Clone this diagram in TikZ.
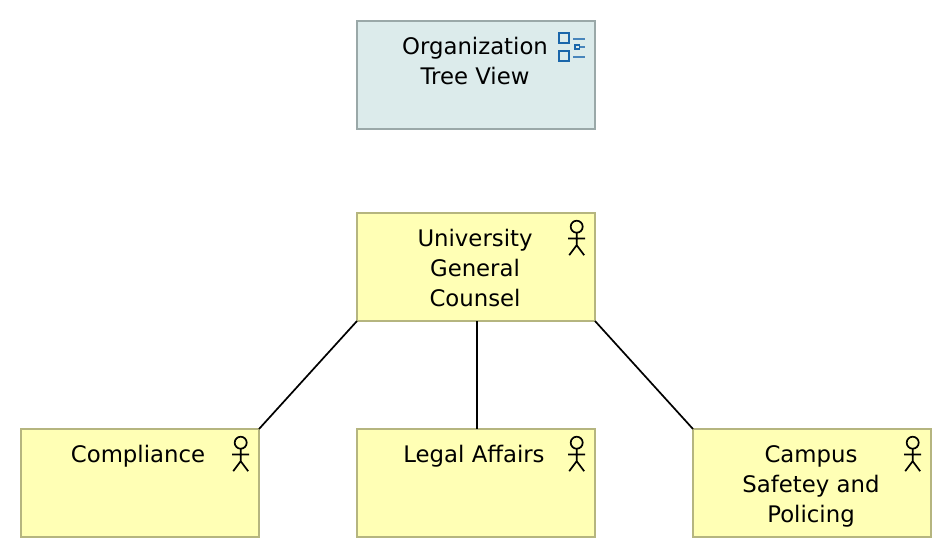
\documentclass[tikz,border=0pt]{standalone}
\usepackage{fontspec}
\setmainfont{DejaVu Sans}
\definecolor{viewfill}{HTML}{DCEBEB}
\definecolor{viewline}{HTML}{9AA8A8}
\definecolor{actfill}{HTML}{FFFFB5}
\definecolor{actline}{HTML}{B5B57F}
\definecolor{iconblue}{HTML}{1A66AA}
\tikzset{
  x=1pt,y=-1pt,
  elem/.style={draw,line width=1.8pt,minimum width=238pt,minimum height=108pt,inner sep=0pt,outer sep=0pt},
  viewbox/.style={elem,draw=viewline,fill=viewfill},
  actbox/.style={elem,draw=actline,fill=actfill},
  lbl/.style={anchor=north,align=center,inner sep=0pt,font=\fontsize{22.8}{30}\selectfont},
  link/.style={draw=black,line width=1.7pt},
  actor/.pic={
    \draw[black,line width=1.7pt] (0,0) circle[radius=6];
    \draw[black,line width=1.7pt] (0,6) -- (0,18.5) (-8.5,11.7) -- (8.5,11.7)
      (-7.5,28.5) -- (0,18.5) -- (7.5,28.5);
  }
}
\begin{document}
\begin{tikzpicture}
\useasboundingbox (0,0) rectangle (952,558);
\fill[white] (0,0) rectangle (952,558);
\node[viewbox] (view) at (476,75) {};
\node[actbox] (ugc) at (476,267) {};
\node[actbox] (comp) at (140,483) {};
\node[actbox] (legal) at (476,483) {};
\node[actbox] (campus) at (812,483) {};
\draw[link] (ugc.south west) -- (comp.north east);
\draw[link] ([xshift=1pt]ugc.south) -- ([xshift=1pt]legal.north);
\draw[link] (ugc.south east) -- (campus.north west);
\node[lbl] (t1) at (475,33) {\strut Organization\\Tree View};
\node[lbl] (t2) at (475,225) {\strut University\\General\\Counsel};
\node[lbl] (t3) at (138,441) {\strut Compliance};
\node[lbl] (t4) at (474,441) {\strut Legal Affairs};
\node[lbl] (t5) at (811,441) {\strut Campus\\Safetey and\\Policing};
\pic at (576.7,226.7) {actor};
\pic at (240.7,442.7) {actor};
\pic at (576.7,442.7) {actor};
\pic at (912.7,442.7) {actor};
\draw[iconblue,line width=2pt] (559,33) rectangle (569,43) (559,51) rectangle (569,61);
\draw[iconblue!80!white,line width=2pt] (573,38.5) -- (585,38.5) (573,56.7) -- (585,56.7) (580,46.7) -- (585,46.7);
\draw[iconblue,line width=1.7pt] (575,44.8) rectangle (579.6,48.8);
\end{tikzpicture}
\end{document}
